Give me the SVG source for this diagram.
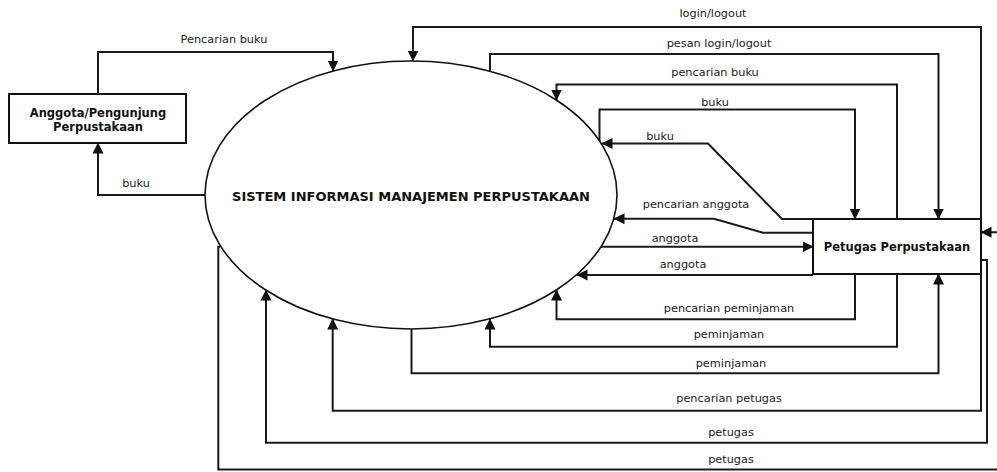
<svg xmlns="http://www.w3.org/2000/svg" width="997" height="472" viewBox="0 0 997 472">
  <style>
    .node { fill: #ffffff; stroke: #111111; stroke-width: 2; }
    .proc { fill: #ffffff; stroke: #111111; stroke-width: 1.6; }
    .title { font-family: "DejaVu Sans", Verdana, sans-serif; font-weight: bold; fill: #111111; text-anchor: middle; }
    .flow { fill: none; stroke: #1a1a1a; stroke-width: 2; }
    .arrow { fill: none; stroke: #1a1a1a; stroke-width: 2; marker-end: url(#head); }
    .lbl { font-family: "DejaVu Sans", Verdana, sans-serif; font-size: 11.3px; fill: #1a1a1a; text-anchor: middle; }
  </style>
  <defs>
    <marker id="head" markerUnits="userSpaceOnUse" markerWidth="11" markerHeight="12" viewBox="0 0 11 12" refX="10.5" refY="6" orient="auto">
      <path d="M0,0.5 L11,6 L0,11.5 z" fill="#111111"/>
    </marker>
  </defs>
  <rect width="997" height="472" fill="#ffffff"/>

  <!-- connectors -->
  <g id="connectors">
    <!-- Anggota / Pengunjung <-> sistem -->
    <path class="arrow" d="M98,94 V52 H333 V71"/>
    <path class="arrow" d="M205,195 H98 V143"/>
    <!-- top loops between sistem and Petugas -->
    <path class="arrow" d="M981,219 V27 H413 V61"/>
    <path class="arrow" d="M490,71 V54 H938.5 V219"/>
    <path class="arrow" d="M897,219 V84.5 H556.5 V100"/>
    <path class="arrow" d="M599.5,141 V109.5 H855 V219"/>
    <path class="arrow" d="M813,219 H782 L708,143.5 H602"/>
    <path class="arrow" d="M813,232.7 H763 L714,218.7 H614"/>
    <path class="arrow" d="M601,246.7 H813"/>
    <path class="arrow" d="M813,275 H577"/>
    <!-- bottom loops -->
    <path class="arrow" d="M855,274 V319.3 H556.5 V290"/>
    <path class="arrow" d="M897,274 V346.7 H490 V319"/>
    <path class="arrow" d="M411.5,329 V373.3 H938.5 V274"/>
    <path class="arrow" d="M981,274 V410.7 H332.7 V319"/>
    <path class="arrow" d="M981,260 H987 V442.7 H266 V290"/>
    <path class="arrow" d="M220,246.7 H218.3 V469.5 H1002 V232.3 H981"/>

    <!-- flow labels -->
    <text class="lbl" x="224" y="43">Pencarian buku</text>
    <text class="lbl" x="136" y="187">buku</text>
    <text class="lbl" x="713" y="17">login/logout</text>
    <text class="lbl" x="719" y="47">pesan login/logout</text>
    <text class="lbl" x="715" y="76">pencarian buku</text>
    <text class="lbl" x="715" y="106">buku</text>
    <text class="lbl" x="660" y="140">buku</text>
    <text class="lbl" x="696" y="208">pencarian anggota</text>
    <text class="lbl" x="675" y="242">anggota</text>
    <text class="lbl" x="683" y="268">anggota</text>
    <text class="lbl" x="729" y="312">pencarian peminjaman</text>
    <text class="lbl" x="729" y="338">peminjaman</text>
    <text class="lbl" x="731" y="367">peminjaman</text>
    <text class="lbl" x="729" y="402">pencarian petugas</text>
    <text class="lbl" x="731" y="436">petugas</text>
    <text class="lbl" x="731" y="463">petugas</text>
  </g>

  <!-- external entity: library member / visitor -->
  <g id="anggota">
    <rect class="node" x="9" y="94" width="177" height="49"/>
    <text class="title" x="98" y="117" font-size="11.5">Anggota/Pengunjung</text>
    <text class="title" x="98" y="131" font-size="11.5">Perpustakaan</text>
  </g>

  <!-- main process -->
  <g id="sistem">
    <ellipse class="proc" cx="411" cy="195" rx="206" ry="134"/>
    <text class="title" x="411" y="201" font-size="13">SISTEM INFORMASI MANAJEMEN PERPUSTAKAAN</text>
  </g>

  <!-- external entity: librarian -->
  <g id="petugas">
    <rect class="node" x="813" y="219" width="168" height="55"/>
    <text class="title" x="897" y="251" font-size="11.5">Petugas Perpustakaan</text>
  </g>
</svg>
